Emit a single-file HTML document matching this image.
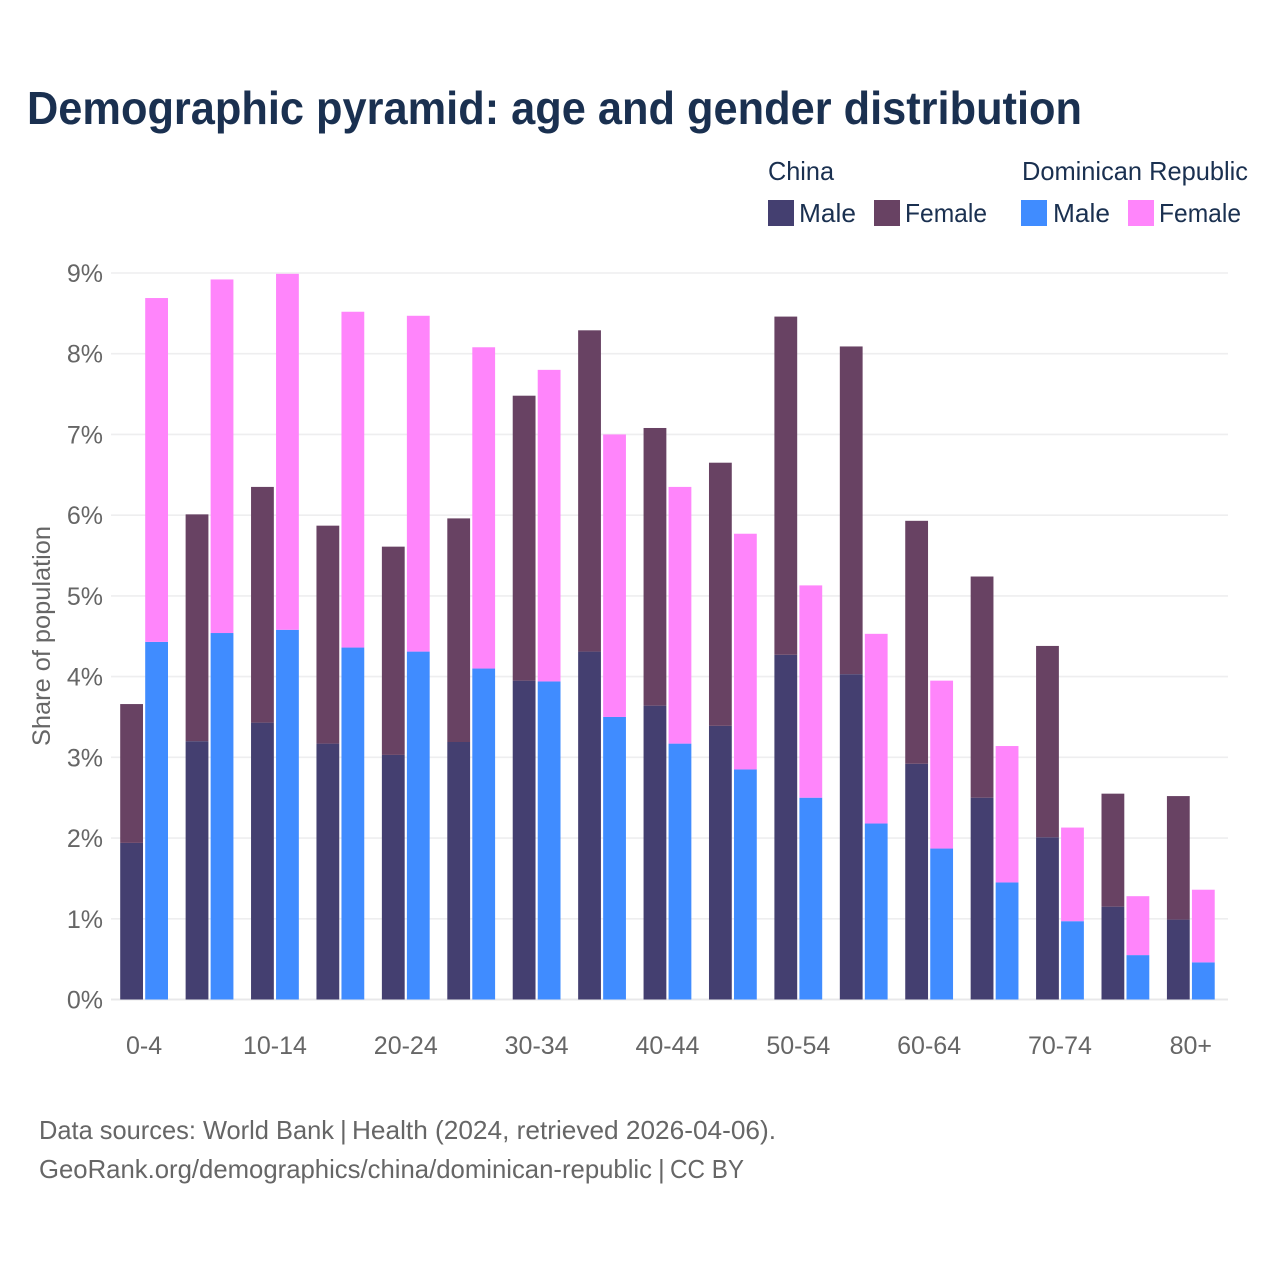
<!DOCTYPE html>
<html lang="en">
<head>
<meta charset="utf-8">
<title>Demographic pyramid: age and gender distribution</title>
<style>
html,body{margin:0;padding:0;background:#fff;width:1280px;height:1280px;overflow:hidden}
svg{display:block}
text{font-family:"Liberation Sans",Arial,sans-serif}
</style>
</head>
<body>
<svg id="chart" xmlns="http://www.w3.org/2000/svg" width="1280" height="1280" viewBox="0 0 1280 1280">
  <rect width="1280" height="1280" fill="#fff"/>
  <text x="27" y="124" font-size="46" font-weight="700" fill="#1a3050" textLength="1055" lengthAdjust="spacingAndGlyphs">Demographic pyramid: age and gender distribution</text>

  <g font-size="26" fill="#1a3050">
    <text x="768" y="180" textLength="66" lengthAdjust="spacingAndGlyphs">China</text>
    <text x="1022" y="180" textLength="226" lengthAdjust="spacingAndGlyphs">Dominican Republic</text>
    <rect x="768" y="200" width="26" height="26" fill="#443f70"/>
    <text x="799" y="222" textLength="57" lengthAdjust="spacingAndGlyphs">Male</text>
    <rect x="874" y="200" width="26" height="26" fill="#684263"/>
    <text x="905" y="222" textLength="82" lengthAdjust="spacingAndGlyphs">Female</text>
    <rect x="1021" y="200" width="26" height="26" fill="#408cff"/>
    <text x="1053" y="222" textLength="57" lengthAdjust="spacingAndGlyphs">Male</text>
    <rect x="1128" y="200" width="26" height="26" fill="#ff85fb"/>
    <text x="1159" y="222" textLength="82" lengthAdjust="spacingAndGlyphs">Female</text>
  </g>

  <g id="grid"></g>
  <g id="bars"></g>
  <g id="yticks" font-size="25" fill="#666"></g>
  <g id="xticks" font-size="25" fill="#666"></g>

  <text transform="translate(50,636) rotate(-90)" text-anchor="middle" font-size="25" fill="#666" textLength="220" lengthAdjust="spacingAndGlyphs">Share of population</text>

  <g font-size="26" fill="#666">
    <text x="39" y="1139" textLength="295" lengthAdjust="spacingAndGlyphs">Data sources: World Bank</text>
    <text x="340" y="1139">|</text>
    <text x="352" y="1139" textLength="424" lengthAdjust="spacingAndGlyphs">Health (2024, retrieved 2026-04-06).</text>
    <text x="39" y="1178" textLength="613" lengthAdjust="spacingAndGlyphs">GeoRank.org/demographics/china/dominican-republic</text>
    <text x="658" y="1178">|</text>
    <text x="670" y="1178" textLength="74" lengthAdjust="spacingAndGlyphs">CC BY</text>
  </g>
</svg>
<script>
var categories = ["0-4","5-9","10-14","15-19","20-24","25-29","30-34","35-39","40-44","45-49","50-54","55-59","60-64","65-69","70-74","75-79","80+"];
var xTickLabels = ["0-4","10-14","20-24","30-34","40-44","50-54","60-64","70-74","80+"];
var yTickValues = [0,1,2,3,4,5,6,7,8,9];
var chinaMale = [1.94,3.20,3.43,3.17,3.03,3.19,3.95,4.31,3.64,3.39,4.27,4.03,2.92,2.50,2.01,1.15,0.99];
var chinaFemale = [1.72,2.81,2.92,2.70,2.58,2.77,3.53,3.98,3.44,3.26,4.19,4.06,3.01,2.74,2.37,1.40,1.53];
var dominicanMale = [4.43,4.54,4.58,4.36,4.31,4.10,3.94,3.50,3.17,2.85,2.50,2.18,1.87,1.45,0.97,0.55,0.46];
var dominicanFemale = [4.26,4.38,4.41,4.16,4.16,3.98,3.86,3.50,3.18,2.92,2.63,2.35,2.08,1.69,1.16,0.73,0.90];

var NS = "http://www.w3.org/2000/svg";
var plotTop = 273, plotBottom = 999.5, plotLeft = 111, plotRight = 1228;
var firstCenter = 144.1, step = 65.42, barW = 22.8, barOffset = 12.5;
function yScale(v){ return plotBottom - v * (plotBottom - plotTop) / 9; }
function xScale(i){ return firstCenter + i * step; }
function make(tag, attrs, parent){
  var el = document.createElementNS(NS, tag);
  for (var k in attrs) el.setAttribute(k, attrs[k]);
  parent.appendChild(el);
  return el;
}
var grid = document.getElementById("grid");
var bars = document.getElementById("bars");
var yticks = document.getElementById("yticks");
var xticks = document.getElementById("xticks");

yTickValues.forEach(function(v){
  var line = make("line", {x1:plotLeft, x2:plotRight, y1:yScale(v), y2:yScale(v), stroke:v === 0 ? "#e8e8ea" : "#eeeeef", "stroke-width":v === 0 ? 2 : 1.6}, grid);
  
  
  var t = make("text", {x:103, y:yScale(v) + 9, "text-anchor":"end"}, yticks);
  t.textContent = v + "%";
  
  
});

function drawBar(x, base, value, fill, name){
  var top = yScale(base + value);
  var r = make("rect", {x:x, y:top, width:barW, height:yScale(base) - top, fill:fill}, bars);
  
  
}
categories.forEach(function(c, i){
  var cx = xScale(i) - barOffset - barW / 2;
  var dx = xScale(i) + barOffset - barW / 2;
  drawBar(cx, 0, chinaMale[i], "#443f70", "bar-china-male-" + c);
  drawBar(cx, chinaMale[i], chinaFemale[i], "#684263", "bar-china-female-" + c);
  drawBar(dx, 0, dominicanMale[i], "#408cff", "bar-dominican-male-" + c);
  drawBar(dx, dominicanMale[i], dominicanFemale[i], "#ff85fb", "bar-dominican-female-" + c);
  if (xTickLabels.indexOf(c) >= 0) {
    var t = make("text", {x:xScale(i), y:1054, "text-anchor":"middle"}, xticks);
    t.textContent = c;
    
    
  }
});
</script>
</body>
</html>
